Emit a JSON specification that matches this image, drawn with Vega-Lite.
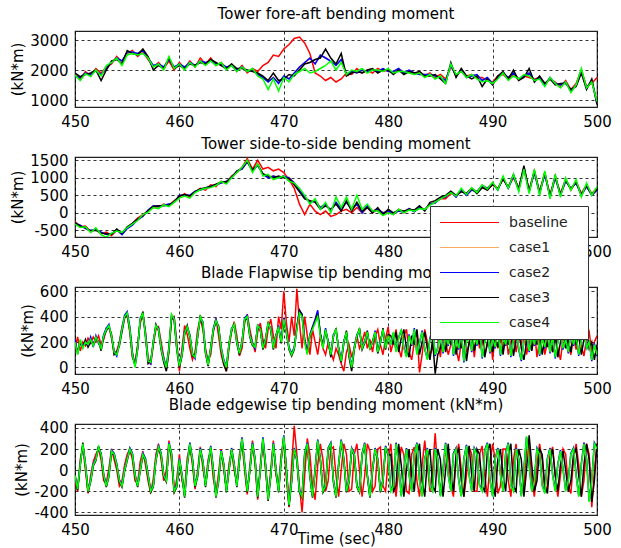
{
"$schema": "https://vega.github.io/schema/vega-lite/v6.json",
"background": "white",
"padding": {"left": 10, "top": 6, "right": 5, "bottom": 6},
"spacing": 50,
"bounds": "flush",
"config": {
  "font": "DejaVu Sans",
  "locale": {"number": {"decimal": ".", "thousands": "", "grouping": [3], "currency": ["", ""], "minus": "-"}},
  "view": {"stroke": "#222", "strokeWidth": 1.2},
  "axis": {"grid": true, "gridColor": "#000", "gridDash": [3, 3], "gridOpacity": 0.8, "gridWidth": 1, "domain": false, "ticks": false, "labelFontSize": 15, "labelColor": "#000", "labelPadding": 7, "labelFlush": false, "labelOverlap": false, "titleFontSize": 15, "titleFontWeight": "normal", "titleColor": "#000", "titlePadding": 4, "format": "d"},
  "title": {"fontSize": 15, "fontWeight": "normal", "anchor": "middle", "color": "#000"},
  "legend": {"orient": "none", "legendX": 355, "legendY": 175, "symbolType": "stroke", "symbolSize": 3481, "symbolStrokeWidth": 1.2, "clipHeight": 15, "rowPadding": 10, "labelOffset": 9, "labelFontSize": 14, "labelColor": "#222", "padding": 9, "fillColor": "#fff", "strokeColor": "#333", "labelLimit": 0, "titleOrient": "right", "titleOpacity": 0, "titleFontSize": 14, "titlePadding": 2, "titleFontWeight": "normal"}
},
"datasets": {
"p1": [
{"t":450,"a":1850,"b":1820,"c":1800,"d":1900,"e":1830},
{"t":450.5,"a":1700,"b":1760,"c":1750,"d":1780,"e":1650},
{"t":451,"a":1950,"b":1880,"c":1900,"d":1850,"e":1880},
{"t":451.5,"a":1800,"b":1860,"c":1850,"d":1900,"e":1780},
{"t":452,"a":2050,"b":1970,"c":1980,"d":2000,"e":2000},
{"t":452.5,"a":1900,"b":1830,"c":1850,"d":1650,"e":1800},
{"t":453,"a":2100,"b":2060,"c":2050,"d":2000,"e":2150},
{"t":453.5,"a":2200,"b":2240,"c":2250,"d":2300,"e":2250},
{"t":454,"a":2450,"b":2380,"c":2400,"d":2350,"e":2400},
{"t":454.5,"a":2250,"b":2280,"c":2300,"d":2200,"e":2150},
{"t":455,"a":2550,"b":2580,"c":2600,"d":2650,"e":2500},
{"t":455.5,"a":2650,"b":2610,"c":2600,"d":2550,"e":2550},
{"t":456,"a":2450,"b":2530,"c":2550,"d":2500,"e":2500},
{"t":456.5,"a":2600,"b":2630,"c":2650,"d":2700,"e":2550},
{"t":457,"a":2350,"b":2420,"c":2400,"d":2450,"e":2400},
{"t":457.5,"a":2100,"b":2130,"c":2150,"d":2000,"e":2100},
{"t":458,"a":2250,"b":2190,"c":2200,"d":2150,"e":2200},
{"t":458.5,"a":2050,"b":2080,"c":2100,"d":2050,"e":2000},
{"t":459,"a":2300,"b":2370,"c":2350,"d":2400,"e":2450},
{"t":459.5,"a":2000,"b":2080,"c":2100,"d":2050,"e":2050},
{"t":460,"a":2250,"b":2180,"c":2200,"d":2150,"e":2200},
{"t":460.5,"a":2050,"b":2090,"c":2100,"d":2050,"e":2000},
{"t":461,"a":2300,"b":2240,"c":2250,"d":2200,"e":2250},
{"t":461.5,"a":2100,"b":2160,"c":2150,"d":2150,"e":2100},
{"t":462,"a":2400,"b":2310,"c":2300,"d":2250,"e":2300},
{"t":462.5,"a":2200,"b":2230,"c":2250,"d":2200,"e":2150},
{"t":463,"a":2400,"b":2320,"c":2300,"d":2350,"e":2300},
{"t":463.5,"a":2150,"b":2190,"c":2200,"d":2250,"e":2150},
{"t":464,"a":2250,"b":2180,"c":2200,"d":2150,"e":2250},
{"t":464.5,"a":2050,"b":2080,"c":2100,"d":2050,"e":2000},
{"t":465,"a":2200,"b":2160,"c":2150,"d":2200,"e":2150},
{"t":465.5,"a":1950,"b":2010,"c":2000,"d":2050,"e":1950},
{"t":466,"a":2150,"b":2090,"c":2100,"d":2050,"e":2100},
{"t":466.5,"a":1900,"b":1960,"c":1950,"d":2000,"e":1950},
{"t":467,"a":2050,"b":1990,"c":2000,"d":1950,"e":2050},
{"t":467.5,"a":1950,"b":1870,"c":1850,"d":1900,"e":1800},
{"t":468,"a":2150,"b":1760,"c":1750,"d":1800,"e":1700},
{"t":468.5,"a":2250,"b":1620,"c":1600,"d":1650,"e":1350},
{"t":469,"a":2500,"b":1740,"c":1750,"d":1900,"e":1700},
{"t":469.5,"a":2450,"b":1580,"c":1550,"d":1650,"e":1300},
{"t":470,"a":2700,"b":1780,"c":1800,"d":1700,"e":1750},
{"t":470.5,"a":2850,"b":1720,"c":1700,"d":1850,"e":1600},
{"t":471,"a":3050,"b":1880,"c":1900,"d":1800,"e":1850},
{"t":471.5,"a":3100,"b":2080,"c":2100,"d":2000,"e":1950},
{"t":472,"a":2900,"b":2230,"c":2250,"d":2200,"e":2050},
{"t":472.5,"a":2550,"b":2380,"c":2400,"d":2250,"e":1900},
{"t":473,"a":1900,"b":2220,"c":2200,"d":2350,"e":1950},
{"t":473.5,"a":1800,"b":2480,"c":2500,"d":2400,"e":2050},
{"t":474,"a":1650,"b":2420,"c":2400,"d":2700,"e":2150},
{"t":474.5,"a":1750,"b":2280,"c":2300,"d":2400,"e":2300},
{"t":475,"a":1600,"b":2170,"c":2150,"d":2200,"e":2000},
{"t":475.5,"a":1700,"b":2330,"c":2350,"d":2550,"e":2250},
{"t":476,"a":1900,"b":1870,"c":1850,"d":1800,"e":1850},
{"t":476.5,"a":1850,"b":1940,"c":1950,"d":1900,"e":2000},
{"t":477,"a":2050,"b":1910,"c":1900,"d":1950,"e":1950},
{"t":477.5,"a":1900,"b":1990,"c":2000,"d":1900,"e":2050},
{"t":478,"a":2000,"b":1960,"c":1950,"d":2000,"e":1900},
{"t":478.5,"a":1900,"b":1990,"c":2000,"d":2050,"e":2000},
{"t":479,"a":2050,"b":1960,"c":1950,"d":1900,"e":2000},
{"t":479.5,"a":1950,"b":2040,"c":2050,"d":2000,"e":1950},
{"t":480,"a":2000,"b":1960,"c":1950,"d":2000,"e":2050},
{"t":480.5,"a":1900,"b":1940,"c":1950,"d":1850,"e":1900},
{"t":481,"a":2000,"b":2040,"c":2050,"d":2000,"e":1950},
{"t":481.5,"a":1900,"b":1910,"c":1900,"d":1850,"e":1950},
{"t":482,"a":1950,"b":1990,"c":2000,"d":1950,"e":1900},
{"t":482.5,"a":1850,"b":1890,"c":1900,"d":1900,"e":1850},
{"t":483,"a":1950,"b":1860,"c":1850,"d":1950,"e":1900},
{"t":483.5,"a":1800,"b":1840,"c":1850,"d":1800,"e":1750},
{"t":484,"a":1900,"b":1860,"c":1850,"d":1800,"e":1850},
{"t":484.5,"a":1750,"b":1790,"c":1800,"d":1850,"e":1700},
{"t":485,"a":1850,"b":1760,"c":1750,"d":1700,"e":1800},
{"t":485.5,"a":1700,"b":1660,"c":1650,"d":1550,"e":1550},
{"t":486,"a":2100,"b":2140,"c":2150,"d":2250,"e":2200},
{"t":486.5,"a":1850,"b":1810,"c":1800,"d":1750,"e":1850},
{"t":487,"a":1950,"b":1990,"c":2000,"d":2050,"e":1950},
{"t":487.5,"a":1800,"b":1760,"c":1750,"d":1800,"e":1750},
{"t":488,"a":1850,"b":1810,"c":1800,"d":1700,"e":1850},
{"t":488.5,"a":1750,"b":1840,"c":1850,"d":1800,"e":1700},
{"t":489,"a":1750,"b":1660,"c":1650,"d":1450,"e":1600},
{"t":489.5,"a":1650,"b":1740,"c":1750,"d":1700,"e":1650},
{"t":490,"a":1600,"b":1560,"c":1550,"d":1500,"e":1550},
{"t":490.5,"a":1800,"b":1760,"c":1750,"d":1800,"e":1700},
{"t":491,"a":1850,"b":1890,"c":1900,"d":1950,"e":1900},
{"t":491.5,"a":1700,"b":1740,"c":1750,"d":1700,"e":1650},
{"t":492,"a":1850,"b":1890,"c":1900,"d":2000,"e":1800},
{"t":492.5,"a":1650,"b":1690,"c":1700,"d":1650,"e":1700},
{"t":493,"a":1800,"b":1810,"c":1800,"d":1750,"e":1850},
{"t":493.5,"a":1750,"b":1890,"c":1900,"d":2050,"e":1800},
{"t":494,"a":1700,"b":1660,"c":1650,"d":1600,"e":1650},
{"t":494.5,"a":1750,"b":1740,"c":1750,"d":1800,"e":1700},
{"t":495,"a":1550,"b":1510,"c":1500,"d":1550,"e":1450},
{"t":495.5,"a":1700,"b":1740,"c":1750,"d":1700,"e":1750},
{"t":496,"a":1600,"b":1560,"c":1550,"d":1500,"e":1550},
{"t":496.5,"a":1450,"b":1490,"c":1500,"d":1550,"e":1400},
{"t":497,"a":1650,"b":1610,"c":1600,"d":1550,"e":1600},
{"t":497.5,"a":1350,"b":1310,"c":1300,"d":1350,"e":1250},
{"t":498,"a":1550,"b":1510,"c":1500,"d":1450,"e":1500},
{"t":498.5,"a":2000,"b":1960,"c":1950,"d":1900,"e":2050},
{"t":499,"a":1450,"b":1410,"c":1400,"d":1350,"e":1400},
{"t":499.5,"a":1550,"b":1640,"c":1650,"d":1700,"e":1600},
{"t":500,"a":1750,"b":950,"c":900,"d":850,"e":950}
],
"p2": [
{"t":450,"a":-250,"b":-290,"c":-300,"d":-280,"e":-320},
{"t":450.5,"a":-400,"b":-360,"c":-350,"d":-380,"e":-420},
{"t":451,"a":-380,"b":-440,"c":-450,"d":-420,"e":-400},
{"t":451.5,"a":-550,"b":-510,"c":-500,"d":-520,"e":-560},
{"t":452,"a":-450,"b":-470,"c":-480,"d":-500,"e":-430},
{"t":452.5,"a":-600,"b":-560,"c":-550,"d":-580,"e":-620},
{"t":453,"a":-550,"b":-610,"c":-620,"d":-600,"e":-700},
{"t":453.5,"a":-650,"b":-610,"c":-600,"d":-620,"e":-580},
{"t":454,"a":-500,"b":-490,"c":-480,"d":-460,"e":-520},
{"t":454.5,"a":-600,"b":-610,"c":-620,"d":-580,"e":-560},
{"t":455,"a":-420,"b":-440,"c":-450,"d":-400,"e":-420},
{"t":455.5,"a":-300,"b":-340,"c":-350,"d":-300,"e":-320},
{"t":456,"a":-150,"b":-190,"c":-200,"d":-180,"e":-220},
{"t":456.5,"a":-50,"b":-90,"c":-100,"d":-80,"e":-50},
{"t":457,"a":50,"b":70,"c":80,"d":60,"e":20},
{"t":457.5,"a":150,"b":190,"c":200,"d":180,"e":150},
{"t":458,"a":150,"b":170,"c":180,"d":200,"e":120},
{"t":458.5,"a":250,"b":230,"c":220,"d":200,"e":230},
{"t":459,"a":200,"b":240,"c":250,"d":220,"e":180},
{"t":459.5,"a":350,"b":310,"c":300,"d":320,"e":300},
{"t":460,"a":450,"b":490,"c":500,"d":480,"e":420},
{"t":460.5,"a":550,"b":510,"c":500,"d":520,"e":480},
{"t":461,"a":450,"b":490,"c":500,"d":480,"e":420},
{"t":461.5,"a":600,"b":610,"c":620,"d":600,"e":580},
{"t":462,"a":700,"b":660,"c":650,"d":680,"e":660},
{"t":462.5,"a":650,"b":690,"c":700,"d":720,"e":700},
{"t":463,"a":800,"b":760,"c":750,"d":760,"e":720},
{"t":463.5,"a":750,"b":790,"c":800,"d":820,"e":780},
{"t":464,"a":900,"b":860,"c":850,"d":880,"e":900},
{"t":464.5,"a":850,"b":890,"c":900,"d":880,"e":820},
{"t":465,"a":1050,"b":1010,"c":1000,"d":1020,"e":1000},
{"t":465.5,"a":1150,"b":1190,"c":1200,"d":1180,"e":1150},
{"t":466,"a":1300,"b":1260,"c":1250,"d":1280,"e":1300},
{"t":466.5,"a":1550,"b":1460,"c":1450,"d":1480,"e":1500},
{"t":467,"a":1250,"b":1210,"c":1200,"d":1220,"e":1150},
{"t":467.5,"a":1500,"b":1360,"c":1350,"d":1380,"e":1400},
{"t":468,"a":1250,"b":1110,"c":1100,"d":1120,"e":1050},
{"t":468.5,"a":1300,"b":1010,"c":1000,"d":1050,"e":1100},
{"t":469,"a":1200,"b":1060,"c":1050,"d":1000,"e":950},
{"t":469.5,"a":1250,"b":1010,"c":1000,"d":1050,"e":1000},
{"t":470,"a":1150,"b":1060,"c":1050,"d":1000,"e":1050},
{"t":470.5,"a":950,"b":1010,"c":1000,"d":980,"e":900},
{"t":471,"a":700,"b":860,"c":850,"d":800,"e":850},
{"t":471.5,"a":250,"b":660,"c":650,"d":600,"e":700},
{"t":472,"a":-50,"b":460,"c":450,"d":400,"e":500},
{"t":472.5,"a":250,"b":310,"c":300,"d":350,"e":250},
{"t":473,"a":50,"b":360,"c":350,"d":300,"e":400},
{"t":473.5,"a":-50,"b":160,"c":150,"d":100,"e":100},
{"t":474,"a":50,"b":260,"c":250,"d":200,"e":300},
{"t":474.5,"a":-100,"b":60,"c":50,"d":100,"e":0},
{"t":475,"a":-50,"b":310,"c":300,"d":250,"e":450},
{"t":475.5,"a":50,"b":110,"c":100,"d":50,"e":150},
{"t":476,"a":100,"b":310,"c":300,"d":350,"e":450},
{"t":476.5,"a":0,"b":110,"c":100,"d":50,"e":100},
{"t":477,"a":150,"b":260,"c":250,"d":300,"e":500},
{"t":477.5,"a":0,"b":10,"c":0,"d":50,"e":100},
{"t":478,"a":150,"b":210,"c":200,"d":150,"e":250},
{"t":478.5,"a":0,"b":60,"c":50,"d":0,"e":50},
{"t":479,"a":100,"b":110,"c":100,"d":150,"e":50},
{"t":479.5,"a":-50,"b":10,"c":0,"d":-50,"e":-80},
{"t":480,"a":50,"b":60,"c":50,"d":100,"e":0},
{"t":480.5,"a":-50,"b":-10,"c":-20,"d":0,"e":-50},
{"t":481,"a":100,"b":60,"c":50,"d":80,"e":100},
{"t":481.5,"a":0,"b":30,"c":20,"d":50,"e":0},
{"t":482,"a":100,"b":130,"c":120,"d":100,"e":80},
{"t":482.5,"a":50,"b":40,"c":30,"d":80,"e":50},
{"t":483,"a":150,"b":160,"c":150,"d":200,"e":120},
{"t":483.5,"a":100,"b":90,"c":80,"d":50,"e":100},
{"t":484,"a":250,"b":260,"c":250,"d":300,"e":220},
{"t":484.5,"a":300,"b":290,"c":280,"d":350,"e":300},
{"t":485,"a":400,"b":430,"c":420,"d":450,"e":400},
{"t":485.5,"a":400,"b":460,"c":450,"d":500,"e":480},
{"t":486,"a":550,"b":610,"c":600,"d":620,"e":580},
{"t":486.5,"a":500,"b":460,"c":450,"d":500,"e":480},
{"t":487,"a":650,"b":660,"c":650,"d":600,"e":700},
{"t":487.5,"a":550,"b":510,"c":500,"d":550,"e":520},
{"t":488,"a":700,"b":660,"c":650,"d":700,"e":720},
{"t":488.5,"a":600,"b":610,"c":600,"d":550,"e":580},
{"t":489,"a":750,"b":790,"c":780,"d":720,"e":800},
{"t":489.5,"a":650,"b":710,"c":700,"d":650,"e":680},
{"t":490,"a":800,"b":860,"c":850,"d":820,"e":870},
{"t":490.5,"a":700,"b":660,"c":650,"d":680,"e":650},
{"t":491,"a":950,"b":1010,"c":1000,"d":980,"e":1050},
{"t":491.5,"a":750,"b":710,"c":700,"d":720,"e":700},
{"t":492,"a":1000,"b":1060,"c":1050,"d":1100,"e":1100},
{"t":492.5,"a":700,"b":660,"c":650,"d":680,"e":600},
{"t":493,"a":1250,"b":1310,"c":1300,"d":1350,"e":1250},
{"t":493.5,"a":650,"b":610,"c":600,"d":620,"e":550},
{"t":494,"a":1200,"b":1160,"c":1150,"d":1200,"e":1250},
{"t":494.5,"a":600,"b":560,"c":550,"d":580,"e":500},
{"t":495,"a":1150,"b":1110,"c":1100,"d":1150,"e":1200},
{"t":495.5,"a":500,"b":460,"c":450,"d":480,"e":400},
{"t":496,"a":1050,"b":1010,"c":1000,"d":1050,"e":1100},
{"t":496.5,"a":550,"b":510,"c":500,"d":520,"e":450},
{"t":497,"a":950,"b":910,"c":900,"d":950,"e":1000},
{"t":497.5,"a":650,"b":710,"c":700,"d":680,"e":650},
{"t":498,"a":900,"b":860,"c":850,"d":880,"e":950},
{"t":498.5,"a":550,"b":510,"c":500,"d":520,"e":450},
{"t":499,"a":800,"b":760,"c":750,"d":780,"e":850},
{"t":499.5,"a":550,"b":510,"c":500,"d":520,"e":500},
{"t":500,"a":700,"b":660,"c":650,"d":680,"e":750}
],
"p3": [
{"t":450,"a":150,"b":210,"c":220,"d":180,"e":200},
{"t":450.25,"a":240,"b":100,"c":110,"d":130,"e":100},
{"t":450.5,"a":130,"b":210,"c":200,"d":190,"e":220},
{"t":450.75,"a":200,"b":160,"c":170,"d":160,"e":150},
{"t":451,"a":170,"b":200,"c":190,"d":220,"e":200},
{"t":451.25,"a":230,"b":170,"c":170,"d":160,"e":180},
{"t":451.5,"a":190,"b":230,"c":240,"d":200,"e":220},
{"t":451.75,"a":240,"b":170,"c":160,"d":190,"e":170},
{"t":452,"a":200,"b":240,"c":250,"d":230,"e":240},
{"t":452.25,"a":250,"b":200,"c":190,"d":210,"e":200},
{"t":452.5,"a":180,"b":150,"c":160,"d":130,"e":150},
{"t":452.75,"a":220,"b":250,"c":260,"d":240,"e":250},
{"t":453,"a":310,"b":300,"c":310,"d":290,"e":300},
{"t":453.25,"a":320,"b":330,"c":340,"d":320,"e":330},
{"t":453.5,"a":230,"b":250,"c":240,"d":260,"e":250},
{"t":453.75,"a":110,"b":120,"c":130,"d":100,"e":120},
{"t":454,"a":130,"b":100,"c":90,"d":120,"e":100},
{"t":454.25,"a":200,"b":180,"c":190,"d":170,"e":180},
{"t":454.5,"a":320,"b":300,"c":310,"d":280,"e":300},
{"t":454.75,"a":390,"b":400,"c":410,"d":390,"e":400},
{"t":455,"a":410,"b":430,"c":440,"d":420,"e":430},
{"t":455.25,"a":280,"b":310,"c":320,"d":290,"e":300},
{"t":455.5,"a":80,"b":110,"c":120,"d":90,"e":100},
{"t":455.75,"a":30,"b":10,"c":10,"d":20,"e":0},
{"t":456,"a":180,"b":150,"c":140,"d":160,"e":150},
{"t":456.25,"a":350,"b":380,"c":390,"d":370,"e":380},
{"t":456.5,"a":410,"b":430,"c":420,"d":440,"e":430},
{"t":456.75,"a":280,"b":260,"c":270,"d":240,"e":250},
{"t":457,"a":80,"b":50,"c":60,"d":30,"e":50},
{"t":457.25,"a":20,"b":40,"c":30,"d":50,"e":40},
{"t":457.5,"a":180,"b":200,"c":210,"d":190,"e":200},
{"t":457.75,"a":300,"b":330,"c":320,"d":340,"e":330},
{"t":458,"a":320,"b":300,"c":310,"d":290,"e":300},
{"t":458.25,"a":200,"b":150,"c":160,"d":140,"e":150},
{"t":458.5,"a":80,"b":60,"c":70,"d":40,"e":60},
{"t":458.75,"a":-20,"b":0,"c":10,"d":-30,"e":0},
{"t":459,"a":120,"b":150,"c":160,"d":140,"e":150},
{"t":459.25,"a":380,"b":410,"c":410,"d":400,"e":420},
{"t":459.5,"a":400,"b":380,"c":390,"d":370,"e":380},
{"t":459.75,"a":200,"b":150,"c":160,"d":140,"e":150},
{"t":460,"a":-30,"b":10,"c":20,"d":0,"e":10},
{"t":460.25,"a":150,"b":100,"c":110,"d":90,"e":100},
{"t":460.5,"a":330,"b":270,"c":280,"d":260,"e":270},
{"t":460.75,"a":260,"b":320,"c":310,"d":330,"e":320},
{"t":461,"a":150,"b":250,"c":260,"d":240,"e":250},
{"t":461.25,"a":60,"b":100,"c":110,"d":90,"e":100},
{"t":461.5,"a":120,"b":80,"c":70,"d":100,"e":80},
{"t":461.75,"a":300,"b":250,"c":260,"d":240,"e":250},
{"t":462,"a":380,"b":400,"c":390,"d":410,"e":400},
{"t":462.25,"a":300,"b":350,"c":360,"d":330,"e":350},
{"t":462.5,"a":150,"b":120,"c":130,"d":110,"e":120},
{"t":462.75,"a":50,"b":20,"c":30,"d":10,"e":20},
{"t":463,"a":100,"b":150,"c":140,"d":160,"e":150},
{"t":463.25,"a":280,"b":300,"c":310,"d":290,"e":300},
{"t":463.5,"a":390,"b":370,"c":380,"d":360,"e":370},
{"t":463.75,"a":250,"b":320,"c":310,"d":330,"e":320},
{"t":464,"a":100,"b":150,"c":160,"d":140,"e":150},
{"t":464.25,"a":20,"b":50,"c":60,"d":30,"e":50},
{"t":464.5,"a":-30,"b":0,"c":10,"d":-30,"e":0},
{"t":464.75,"a":150,"b":180,"c":170,"d":190,"e":180},
{"t":465,"a":280,"b":300,"c":310,"d":290,"e":300},
{"t":465.25,"a":360,"b":340,"c":330,"d":350,"e":340},
{"t":465.5,"a":250,"b":200,"c":210,"d":190,"e":200},
{"t":465.75,"a":90,"b":110,"c":120,"d":100,"e":110},
{"t":466,"a":150,"b":200,"c":190,"d":210,"e":200},
{"t":466.25,"a":350,"b":380,"c":390,"d":370,"e":380},
{"t":466.5,"a":420,"b":400,"c":410,"d":390,"e":400},
{"t":466.75,"a":300,"b":250,"c":260,"d":240,"e":250},
{"t":467,"a":200,"b":180,"c":190,"d":170,"e":180},
{"t":467.25,"a":120,"b":160,"c":150,"d":170,"e":160},
{"t":467.5,"a":280,"b":330,"c":340,"d":320,"e":330},
{"t":467.75,"a":350,"b":300,"c":290,"d":310,"e":300},
{"t":468,"a":220,"b":150,"c":160,"d":140,"e":150},
{"t":468.25,"a":150,"b":220,"c":230,"d":210,"e":220},
{"t":468.5,"a":300,"b":350,"c":340,"d":360,"e":350},
{"t":468.75,"a":380,"b":300,"c":310,"d":290,"e":300},
{"t":469,"a":250,"b":150,"c":160,"d":140,"e":150},
{"t":469.25,"a":150,"b":250,"c":240,"d":260,"e":250},
{"t":469.5,"a":400,"b":320,"c":330,"d":310,"e":320},
{"t":469.75,"a":300,"b":200,"c":210,"d":190,"e":200},
{"t":470,"a":600,"b":380,"c":390,"d":370,"e":380},
{"t":470.25,"a":350,"b":280,"c":290,"d":270,"e":280},
{"t":470.5,"a":200,"b":150,"c":160,"d":140,"e":150},
{"t":470.75,"a":400,"b":100,"c":110,"d":90,"e":100},
{"t":471,"a":250,"b":150,"c":160,"d":140,"e":150},
{"t":471.25,"a":620,"b":310,"c":320,"d":310,"e":300},
{"t":471.5,"a":350,"b":440,"c":450,"d":450,"e":430},
{"t":471.75,"a":150,"b":410,"c":420,"d":410,"e":400},
{"t":472,"a":400,"b":210,"c":220,"d":210,"e":200},
{"t":472.25,"a":250,"b":110,"c":120,"d":110,"e":100},
{"t":472.5,"a":100,"b":250,"c":260,"d":240,"e":250},
{"t":472.75,"a":300,"b":310,"c":320,"d":310,"e":300},
{"t":473,"a":200,"b":370,"c":380,"d":360,"e":350},
{"t":473.25,"a":100,"b":440,"c":450,"d":420,"e":400},
{"t":473.5,"a":250,"b":260,"c":260,"d":270,"e":250},
{"t":473.75,"a":150,"b":160,"c":170,"d":160,"e":150},
{"t":474,"a":100,"b":300,"c":310,"d":290,"e":300},
{"t":474.25,"a":200,"b":200,"c":190,"d":210,"e":200},
{"t":474.5,"a":120,"b":100,"c":110,"d":80,"e":100},
{"t":474.75,"a":60,"b":250,"c":260,"d":240,"e":250},
{"t":475,"a":150,"b":300,"c":290,"d":310,"e":300},
{"t":475.25,"a":100,"b":150,"c":160,"d":140,"e":150},
{"t":475.5,"a":30,"b":50,"c":60,"d":40,"e":50},
{"t":475.75,"a":-30,"b":200,"c":210,"d":190,"e":200},
{"t":476,"a":120,"b":280,"c":270,"d":290,"e":280},
{"t":476.25,"a":180,"b":100,"c":110,"d":80,"e":100},
{"t":476.5,"a":80,"b":0,"c":10,"d":-30,"e":0},
{"t":476.75,"a":150,"b":150,"c":160,"d":140,"e":150},
{"t":477,"a":250,"b":250,"c":260,"d":240,"e":250},
{"t":477.25,"a":150,"b":300,"c":290,"d":310,"e":300},
{"t":477.5,"a":200,"b":150,"c":160,"d":140,"e":150},
{"t":477.75,"a":280,"b":200,"c":210,"d":190,"e":200},
{"t":478,"a":150,"b":280,"c":270,"d":290,"e":280},
{"t":478.25,"a":220,"b":150,"c":160,"d":140,"e":150},
{"t":478.5,"a":120,"b":200,"c":190,"d":210,"e":200},
{"t":478.75,"a":250,"b":280,"c":290,"d":270,"e":280},
{"t":479,"a":300,"b":120,"c":130,"d":110,"e":120},
{"t":479.25,"a":180,"b":200,"c":210,"d":190,"e":200},
{"t":479.5,"a":100,"b":300,"c":290,"d":310,"e":300},
{"t":479.75,"a":230,"b":150,"c":160,"d":140,"e":150},
{"t":480,"a":320,"b":250,"c":240,"d":260,"e":250},
{"t":480.25,"a":120,"b":190,"c":190,"d":250,"e":180},
{"t":480.5,"a":200,"b":270,"c":270,"d":180,"e":280},
{"t":480.75,"a":300,"b":130,"c":130,"d":280,"e":120},
{"t":481,"a":150,"b":220,"c":240,"d":120,"e":230},
{"t":481.25,"a":80,"b":290,"c":290,"d":230,"e":300},
{"t":481.5,"a":250,"b":160,"c":160,"d":300,"e":150},
{"t":481.75,"a":300,"b":90,"c":90,"d":150,"e":80},
{"t":482,"a":120,"b":240,"c":260,"d":80,"e":250},
{"t":482.25,"a":60,"b":190,"c":170,"d":250,"e":180},
{"t":482.5,"a":200,"b":290,"c":310,"d":180,"e":300},
{"t":482.75,"a":280,"b":110,"c":110,"d":300,"e":100},
{"t":483,"a":-40,"b":210,"c":190,"d":100,"e":200},
{"t":483.25,"a":100,"b":270,"c":290,"d":200,"e":280},
{"t":483.5,"a":300,"b":160,"c":140,"d":280,"e":150},
{"t":483.75,"a":200,"b":70,"c":70,"d":150,"e":60},
{"t":484,"a":100,"b":210,"c":230,"d":60,"e":220},
{"t":484.25,"a":150,"b":290,"c":310,"d":220,"e":300},
{"t":484.5,"a":280,"b":110,"c":90,"d":-50,"e":100},
{"t":484.75,"a":220,"b":140,"c":160,"d":100,"e":150},
{"t":485,"a":80,"b":270,"c":290,"d":150,"e":280},
{"t":485.25,"a":300,"b":130,"c":110,"d":280,"e":120},
{"t":485.5,"a":200,"b":240,"c":260,"d":120,"e":250},
{"t":485.75,"a":100,"b":190,"c":170,"d":250,"e":180},
{"t":486,"a":180,"b":290,"c":310,"d":180,"e":300},
{"t":486.25,"a":280,"b":110,"c":90,"d":300,"e":100},
{"t":486.5,"a":150,"b":210,"c":230,"d":100,"e":220},
{"t":486.75,"a":50,"b":160,"c":140,"d":220,"e":150},
{"t":487,"a":200,"b":270,"c":290,"d":150,"e":280},
{"t":487.25,"a":320,"b":60,"c":40,"d":280,"e":50},
{"t":487.5,"a":120,"b":210,"c":210,"d":50,"e":200},
{"t":487.75,"a":180,"b":290,"c":310,"d":200,"e":300},
{"t":488,"a":250,"b":140,"c":120,"d":300,"e":130},
{"t":488.25,"a":80,"b":240,"c":260,"d":130,"e":250},
{"t":488.5,"a":300,"b":190,"c":170,"d":250,"e":180},
{"t":488.75,"a":150,"b":310,"c":330,"d":180,"e":320},
{"t":489,"a":220,"b":90,"c":70,"d":320,"e":80},
{"t":489.25,"a":100,"b":210,"c":210,"d":80,"e":200},
{"t":489.5,"a":180,"b":270,"c":290,"d":200,"e":280},
{"t":489.75,"a":300,"b":130,"c":110,"d":280,"e":120},
{"t":490,"a":60,"b":220,"c":240,"d":120,"e":230},
{"t":490.25,"a":250,"b":170,"c":150,"d":230,"e":160},
{"t":490.5,"a":150,"b":290,"c":310,"d":160,"e":300},
{"t":490.75,"a":220,"b":110,"c":90,"d":300,"e":100},
{"t":491,"a":120,"b":240,"c":260,"d":100,"e":250},
{"t":491.25,"a":300,"b":190,"c":170,"d":250,"e":180},
{"t":491.5,"a":100,"b":270,"c":290,"d":180,"e":280},
{"t":491.75,"a":200,"b":100,"c":80,"d":280,"e":90},
{"t":492,"a":280,"b":210,"c":230,"d":90,"e":220},
{"t":492.25,"a":120,"b":310,"c":330,"d":220,"e":320},
{"t":492.5,"a":250,"b":160,"c":140,"d":320,"e":150},
{"t":492.75,"a":180,"b":70,"c":50,"d":150,"e":60},
{"t":493,"a":320,"b":210,"c":210,"d":60,"e":200},
{"t":493.25,"a":100,"b":270,"c":290,"d":200,"e":280},
{"t":493.5,"a":200,"b":140,"c":120,"d":280,"e":130},
{"t":493.75,"a":150,"b":240,"c":260,"d":130,"e":250},
{"t":494,"a":300,"b":190,"c":170,"d":250,"e":180},
{"t":494.25,"a":80,"b":290,"c":310,"d":180,"e":300},
{"t":494.5,"a":220,"b":110,"c":90,"d":300,"e":100},
{"t":494.75,"a":280,"b":220,"c":240,"d":100,"e":230},
{"t":495,"a":100,"b":170,"c":150,"d":230,"e":160},
{"t":495.25,"a":200,"b":270,"c":290,"d":160,"e":280},
{"t":495.5,"a":260,"b":130,"c":110,"d":280,"e":120},
{"t":495.75,"a":120,"b":240,"c":260,"d":120,"e":250},
{"t":496,"a":250,"b":90,"c":70,"d":250,"e":80},
{"t":496.25,"a":150,"b":210,"c":210,"d":80,"e":200},
{"t":496.5,"a":60,"b":290,"c":310,"d":200,"e":300},
{"t":496.75,"a":220,"b":160,"c":140,"d":300,"e":150},
{"t":497,"a":300,"b":210,"c":230,"d":150,"e":220},
{"t":497.25,"a":180,"b":130,"c":110,"d":220,"e":120},
{"t":497.5,"a":100,"b":270,"c":290,"d":120,"e":280},
{"t":497.75,"a":250,"b":190,"c":170,"d":280,"e":180},
{"t":498,"a":140,"b":240,"c":260,"d":180,"e":250},
{"t":498.25,"a":280,"b":110,"c":90,"d":250,"e":100},
{"t":498.5,"a":170,"b":210,"c":230,"d":100,"e":220},
{"t":498.75,"a":90,"b":290,"c":310,"d":220,"e":300},
{"t":499,"a":230,"b":160,"c":140,"d":300,"e":150},
{"t":499.25,"a":280,"b":210,"c":210,"d":150,"e":200},
{"t":499.5,"a":120,"b":70,"c":50,"d":200,"e":60},
{"t":499.75,"a":200,"b":170,"c":190,"d":60,"e":180},
{"t":500,"a":250,"b":110,"c":90,"d":180,"e":100}
],
"p4": [
{"t":450,"a":-100,"b":-60,"c":-60,"d":-40,"e":-50},
{"t":450.25,"a":-200,"b":-170,"c":-170,"d":-190,"e":-180},
{"t":450.5,"a":100,"b":60,"c":60,"d":40,"e":50},
{"t":450.75,"a":220,"b":240,"c":240,"d":260,"e":250},
{"t":451,"a":0,"b":60,"c":60,"d":40,"e":50},
{"t":451.25,"a":-220,"b":-190,"c":-190,"d":-210,"e":-200},
{"t":451.5,"a":-50,"b":-90,"c":-90,"d":-110,"e":-100},
{"t":451.75,"a":80,"b":60,"c":60,"d":40,"e":50},
{"t":452,"a":150,"b":110,"c":110,"d":90,"e":100},
{"t":452.25,"a":200,"b":210,"c":210,"d":230,"e":220},
{"t":452.5,"a":100,"b":160,"c":160,"d":140,"e":150},
{"t":452.75,"a":-100,"b":-40,"c":-40,"d":-60,"e":-50},
{"t":453,"a":-120,"b":-140,"c":-140,"d":-160,"e":-150},
{"t":453.25,"a":20,"b":-40,"c":-40,"d":-60,"e":-50},
{"t":453.5,"a":200,"b":190,"c":190,"d":170,"e":180},
{"t":453.75,"a":100,"b":160,"c":160,"d":140,"e":150},
{"t":454,"a":0,"b":60,"c":60,"d":40,"e":50},
{"t":454.25,"a":-150,"b":-90,"c":-90,"d":-110,"e":-100},
{"t":454.5,"a":-100,"b":-140,"c":-140,"d":-160,"e":-150},
{"t":454.75,"a":50,"b":10,"c":10,"d":-10,"e":0},
{"t":455,"a":150,"b":110,"c":110,"d":90,"e":100},
{"t":455.25,"a":200,"b":210,"c":210,"d":190,"e":200},
{"t":455.5,"a":100,"b":160,"c":160,"d":140,"e":150},
{"t":455.75,"a":-100,"b":-40,"c":-40,"d":-60,"e":-50},
{"t":456,"a":-120,"b":-140,"c":-140,"d":-160,"e":-150},
{"t":456.25,"a":80,"b":10,"c":10,"d":-10,"e":0},
{"t":456.5,"a":180,"b":160,"c":160,"d":140,"e":150},
{"t":456.75,"a":50,"b":110,"c":110,"d":90,"e":100},
{"t":457,"a":-100,"b":-40,"c":-40,"d":-60,"e":-50},
{"t":457.25,"a":-220,"b":-190,"c":-190,"d":-210,"e":-200},
{"t":457.5,"a":-80,"b":-140,"c":-140,"d":-160,"e":-150},
{"t":457.75,"a":150,"b":110,"c":110,"d":90,"e":100},
{"t":458,"a":250,"b":230,"c":230,"d":210,"e":220},
{"t":458.25,"a":100,"b":160,"c":160,"d":140,"e":150},
{"t":458.5,"a":-100,"b":-40,"c":-40,"d":-60,"e":-50},
{"t":458.75,"a":0,"b":-90,"c":-90,"d":-110,"e":-100},
{"t":459,"a":280,"b":260,"c":260,"d":240,"e":250},
{"t":459.25,"a":80,"b":160,"c":160,"d":140,"e":150},
{"t":459.5,"a":-220,"b":-190,"c":-190,"d":-210,"e":-200},
{"t":459.75,"a":-80,"b":-140,"c":-140,"d":-160,"e":-150},
{"t":460,"a":150,"b":110,"c":110,"d":90,"e":100},
{"t":460.25,"a":-100,"b":-40,"c":-40,"d":-60,"e":-50},
{"t":460.5,"a":-200,"b":-240,"c":-240,"d":-260,"e":-250},
{"t":460.75,"a":120,"b":60,"c":60,"d":40,"e":50},
{"t":461,"a":230,"b":260,"c":260,"d":240,"e":250},
{"t":461.25,"a":50,"b":110,"c":110,"d":90,"e":100},
{"t":461.5,"a":-180,"b":-140,"c":-140,"d":-160,"e":-150},
{"t":461.75,"a":0,"b":-40,"c":-40,"d":-60,"e":-50},
{"t":462,"a":220,"b":210,"c":210,"d":190,"e":200},
{"t":462.25,"a":20,"b":90,"c":90,"d":70,"e":80},
{"t":462.5,"a":-120,"b":-140,"c":-140,"d":-160,"e":-150},
{"t":462.75,"a":100,"b":60,"c":60,"d":40,"e":50},
{"t":463,"a":180,"b":230,"c":230,"d":210,"e":220},
{"t":463.25,"a":-80,"b":10,"c":10,"d":-10,"e":0},
{"t":463.5,"a":-220,"b":-240,"c":-240,"d":-260,"e":-250},
{"t":463.75,"a":-30,"b":-90,"c":-90,"d":-110,"e":-100},
{"t":464,"a":200,"b":190,"c":190,"d":170,"e":180},
{"t":464.25,"a":0,"b":60,"c":60,"d":40,"e":50},
{"t":464.5,"a":-180,"b":-190,"c":-190,"d":-210,"e":-200},
{"t":464.75,"a":60,"b":10,"c":10,"d":-10,"e":0},
{"t":465,"a":180,"b":210,"c":210,"d":190,"e":200},
{"t":465.25,"a":0,"b":60,"c":60,"d":40,"e":50},
{"t":465.5,"a":-120,"b":-140,"c":-140,"d":-160,"e":-150},
{"t":465.75,"a":150,"b":110,"c":110,"d":90,"e":100},
{"t":466,"a":250,"b":310,"c":310,"d":290,"e":300},
{"t":466.25,"a":0,"b":60,"c":60,"d":40,"e":50},
{"t":466.5,"a":-230,"b":-190,"c":-190,"d":-210,"e":-200},
{"t":466.75,"a":50,"b":10,"c":10,"d":-10,"e":0},
{"t":467,"a":280,"b":260,"c":260,"d":240,"e":250},
{"t":467.25,"a":50,"b":110,"c":110,"d":90,"e":100},
{"t":467.5,"a":-280,"b":-240,"c":-240,"d":-260,"e":-250},
{"t":467.75,"a":50,"b":10,"c":10,"d":-10,"e":0},
{"t":468,"a":270,"b":310,"c":310,"d":290,"e":300},
{"t":468.25,"a":0,"b":60,"c":60,"d":40,"e":50},
{"t":468.5,"a":-250,"b":-270,"c":-270,"d":-290,"e":-280},
{"t":468.75,"a":0,"b":-40,"c":-40,"d":-60,"e":-50},
{"t":469,"a":280,"b":260,"c":260,"d":240,"e":250},
{"t":469.25,"a":-50,"b":10,"c":10,"d":-10,"e":0},
{"t":469.5,"a":-150,"b":-190,"c":-190,"d":-210,"e":-200},
{"t":469.75,"a":150,"b":110,"c":110,"d":90,"e":100},
{"t":470,"a":250,"b":330,"c":330,"d":310,"e":320},
{"t":470.25,"a":-80,"b":10,"c":10,"d":-10,"e":0},
{"t":470.5,"a":-350,"b":-320,"c":-320,"d":-340,"e":-330},
{"t":470.75,"a":50,"b":-90,"c":-90,"d":-110,"e":-100},
{"t":471,"a":420,"b":210,"c":210,"d":190,"e":200},
{"t":471.25,"a":150,"b":110,"c":110,"d":90,"e":100},
{"t":471.5,"a":-150,"b":-190,"c":-190,"d":-210,"e":-200},
{"t":471.75,"a":-400,"b":-240,"c":-240,"d":-260,"e":-250},
{"t":472,"a":-50,"b":160,"c":160,"d":140,"e":150},
{"t":472.25,"a":300,"b":260,"c":260,"d":240,"e":250},
{"t":472.5,"a":150,"b":-40,"c":-40,"d":-60,"e":-50},
{"t":472.75,"a":-150,"b":-240,"c":-240,"d":-260,"e":-250},
{"t":473,"a":-280,"b":10,"c":10,"d":-10,"e":0},
{"t":473.25,"a":50,"b":290,"c":290,"d":270,"e":280},
{"t":473.5,"a":250,"b":110,"c":110,"d":90,"e":100},
{"t":473.75,"a":100,"b":-190,"c":-190,"d":-210,"e":-200},
{"t":474,"a":-200,"b":-140,"c":-140,"d":-160,"e":-150},
{"t":474.25,"a":-100,"b":210,"c":210,"d":190,"e":200},
{"t":474.5,"a":200,"b":260,"c":260,"d":240,"e":250},
{"t":474.75,"a":220,"b":-90,"c":-90,"d":-110,"e":-100},
{"t":475,"a":-50,"b":-240,"c":-240,"d":-260,"e":-250},
{"t":475.25,"a":-250,"b":60,"c":60,"d":40,"e":50},
{"t":475.5,"a":0,"b":290,"c":290,"d":270,"e":280},
{"t":475.75,"a":250,"b":110,"c":110,"d":90,"e":100},
{"t":476,"a":150,"b":-190,"c":-190,"d":-210,"e":-200},
{"t":476.25,"a":-200,"b":-90,"c":-90,"d":-110,"e":-100},
{"t":476.5,"a":-180,"b":210,"c":210,"d":190,"e":200},
{"t":476.75,"a":150,"b":160,"c":160,"d":140,"e":150},
{"t":477,"a":250,"b":-140,"c":-140,"d":-160,"e":-150},
{"t":477.25,"a":0,"b":-190,"c":-190,"d":-210,"e":-200},
{"t":477.5,"a":-250,"b":160,"c":160,"d":140,"e":150},
{"t":477.75,"a":-50,"b":260,"c":260,"d":240,"e":250},
{"t":478,"a":250,"b":-40,"c":-40,"d":-60,"e":-50},
{"t":478.25,"a":180,"b":-240,"c":-240,"d":-260,"e":-250},
{"t":478.5,"a":-200,"b":10,"c":10,"d":-10,"e":0},
{"t":478.75,"a":-150,"b":210,"c":210,"d":190,"e":200},
{"t":479,"a":200,"b":110,"c":110,"d":90,"e":100},
{"t":479.25,"a":220,"b":-190,"c":-190,"d":-210,"e":-200},
{"t":479.5,"a":-150,"b":-90,"c":-90,"d":-110,"e":-100},
{"t":479.75,"a":-200,"b":230,"c":230,"d":210,"e":220},
{"t":480,"a":100,"b":160,"c":160,"d":140,"e":150},
{"t":480.25,"a":250,"b":-190,"c":-190,"d":150,"e":-200},
{"t":480.5,"a":-50,"b":-140,"c":-140,"d":-200,"e":-150},
{"t":480.75,"a":-250,"b":260,"c":260,"d":-150,"e":250},
{"t":481,"a":0,"b":60,"c":60,"d":250,"e":50},
{"t":481.25,"a":220,"b":-240,"c":-240,"d":50,"e":-250},
{"t":481.5,"a":150,"b":10,"c":10,"d":-250,"e":0},
{"t":481.75,"a":-200,"b":210,"c":210,"d":0,"e":200},
{"t":482,"a":-220,"b":-40,"c":-40,"d":200,"e":-50},
{"t":482.25,"a":150,"b":-190,"c":-190,"d":-50,"e":-200},
{"t":482.5,"a":220,"b":160,"c":160,"d":-200,"e":150},
{"t":482.75,"a":-100,"b":260,"c":260,"d":150,"e":250},
{"t":483,"a":-250,"b":-90,"c":-90,"d":250,"e":-100},
{"t":483.25,"a":50,"b":-240,"c":-240,"d":-100,"e":-250},
{"t":483.5,"a":280,"b":110,"c":110,"d":-250,"e":100},
{"t":483.75,"a":50,"b":210,"c":210,"d":100,"e":200},
{"t":484,"a":-200,"b":-140,"c":-140,"d":200,"e":-150},
{"t":484.25,"a":0,"b":-190,"c":-190,"d":-150,"e":-200},
{"t":484.5,"a":350,"b":210,"c":210,"d":-200,"e":200},
{"t":484.75,"a":0,"b":110,"c":110,"d":200,"e":100},
{"t":485,"a":-230,"b":-240,"c":-240,"d":100,"e":-250},
{"t":485.25,"a":-50,"b":10,"c":10,"d":-250,"e":0},
{"t":485.5,"a":200,"b":260,"c":260,"d":0,"e":250},
{"t":485.75,"a":180,"b":-40,"c":-40,"d":250,"e":-50},
{"t":486,"a":-150,"b":-190,"c":-190,"d":-50,"e":-200},
{"t":486.25,"a":-250,"b":160,"c":160,"d":-200,"e":150},
{"t":486.5,"a":100,"b":210,"c":210,"d":150,"e":200},
{"t":486.75,"a":250,"b":-90,"c":-90,"d":200,"e":-100},
{"t":487,"a":0,"b":-240,"c":-240,"d":-100,"e":-250},
{"t":487.25,"a":-250,"b":110,"c":110,"d":-250,"e":100},
{"t":487.5,"a":-50,"b":240,"c":240,"d":100,"e":230},
{"t":487.75,"a":220,"b":-40,"c":-40,"d":230,"e":-50},
{"t":488,"a":150,"b":-190,"c":-190,"d":-50,"e":-200},
{"t":488.25,"a":-200,"b":210,"c":210,"d":-200,"e":200},
{"t":488.5,"a":-200,"b":160,"c":160,"d":200,"e":150},
{"t":488.75,"a":150,"b":-140,"c":-140,"d":150,"e":-150},
{"t":489,"a":230,"b":-190,"c":-190,"d":-150,"e":-200},
{"t":489.25,"a":-50,"b":190,"c":190,"d":-200,"e":180},
{"t":489.5,"a":-250,"b":260,"c":260,"d":180,"e":250},
{"t":489.75,"a":50,"b":-90,"c":-90,"d":250,"e":-100},
{"t":490,"a":250,"b":-240,"c":-240,"d":-100,"e":-250},
{"t":490.25,"a":100,"b":110,"c":110,"d":-250,"e":100},
{"t":490.5,"a":-220,"b":210,"c":210,"d":100,"e":200},
{"t":490.75,"a":-150,"b":-40,"c":-40,"d":200,"e":-50},
{"t":491,"a":200,"b":-190,"c":-190,"d":-50,"e":-200},
{"t":491.25,"a":200,"b":160,"c":160,"d":-200,"e":150},
{"t":491.5,"a":-100,"b":260,"c":260,"d":150,"e":250},
{"t":491.75,"a":-250,"b":-140,"c":-140,"d":250,"e":-150},
{"t":492,"a":100,"b":-190,"c":-190,"d":-150,"e":-200},
{"t":492.25,"a":250,"b":210,"c":210,"d":-200,"e":200},
{"t":492.5,"a":0,"b":110,"c":110,"d":200,"e":100},
{"t":492.75,"a":-200,"b":-240,"c":-240,"d":100,"e":-250},
{"t":493,"a":-150,"b":10,"c":10,"d":-250,"e":0},
{"t":493.25,"a":200,"b":310,"c":310,"d":0,"e":320},
{"t":493.5,"a":220,"b":60,"c":60,"d":330,"e":50},
{"t":493.75,"a":-100,"b":-190,"c":-190,"d":50,"e":-200},
{"t":494,"a":-250,"b":-90,"c":-90,"d":-200,"e":-100},
{"t":494.25,"a":50,"b":210,"c":210,"d":-100,"e":200},
{"t":494.5,"a":250,"b":160,"c":160,"d":200,"e":150},
{"t":494.75,"a":100,"b":-140,"c":-140,"d":150,"e":-150},
{"t":495,"a":-200,"b":-210,"c":-210,"d":-150,"e":-220},
{"t":495.25,"a":-150,"b":110,"c":110,"d":-220,"e":100},
{"t":495.5,"a":150,"b":210,"c":210,"d":100,"e":200},
{"t":495.75,"a":220,"b":-40,"c":-40,"d":200,"e":-50},
{"t":496,"a":-50,"b":-190,"c":-190,"d":-50,"e":-200},
{"t":496.25,"a":-250,"b":60,"c":60,"d":-200,"e":50},
{"t":496.5,"a":-50,"b":190,"c":190,"d":50,"e":180},
{"t":496.75,"a":200,"b":10,"c":10,"d":180,"e":0},
{"t":497,"a":150,"b":-190,"c":-190,"d":0,"e":-200},
{"t":497.25,"a":-150,"b":-90,"c":-90,"d":-200,"e":-100},
{"t":497.5,"a":-220,"b":160,"c":160,"d":-100,"e":150},
{"t":497.75,"a":100,"b":210,"c":210,"d":150,"e":200},
{"t":498,"a":250,"b":-40,"c":-40,"d":200,"e":-50},
{"t":498.25,"a":50,"b":-240,"c":-240,"d":-50,"e":-250},
{"t":498.5,"a":-250,"b":60,"c":60,"d":-250,"e":50},
{"t":498.75,"a":-100,"b":260,"c":260,"d":50,"e":250},
{"t":499,"a":250,"b":110,"c":110,"d":250,"e":100},
{"t":499.25,"a":150,"b":-290,"c":-290,"d":100,"e":-300},
{"t":499.5,"a":-350,"b":-90,"c":-90,"d":-300,"e":-100},
{"t":499.75,"a":0,"b":260,"c":260,"d":-100,"e":250},
{"t":500,"a":250,"b":210,"c":210,"d":250,"e":200}
]
},
"vconcat": [
{
  "width": 522, "height": 76,
  "data": {"name": "p1"},
  "title": {"text": "Tower fore-aft bending moment", "offset": 9},
  "transform": [{"fold": ["a", "b", "c", "d", "e"], "as": ["k", "v"]}],
  "mark": {"type": "line", "strokeWidth": 1.5, "clip": true},
  "encoding": {
    "x": {"field": "t", "type": "quantitative", "scale": {"domain": [450, 500], "nice": false, "zero": false}, "axis": {"values": [450, 460, 470, 480, 490, 500], "title": null}},
    "y": {"field": "v", "type": "quantitative", "scale": {"domain": [767, 3300], "nice": false, "zero": false}, "axis": {"values": [1000, 2000, 3000], "title": "(kN*m)"}},
    "color": {"field": "k", "type": "nominal", "scale": {"domain": ["a", "b", "c", "d", "e"], "range": ["#ff0000", "#ffa860", "#0000ff", "#000000", "#00ff00"]}, "legend": {"title": "n", "labelExpr": "datum.value == 'a' ? 'baseline' : datum.value == 'b' ? 'case1' : datum.value == 'c' ? 'case2' : datum.value == 'd' ? 'case3' : 'case4'"}}
  }
},
{
  "width": 522, "height": 80,
  "data": {"name": "p2"},
  "title": {"text": "Tower side-to-side bending moment", "offset": 1},
  "transform": [{"fold": ["a", "b", "c", "d", "e"], "as": ["k", "v"]}],
  "mark": {"type": "line", "strokeWidth": 1.5, "clip": true},
  "encoding": {
    "x": {"field": "t", "type": "quantitative", "scale": {"domain": [450, 500], "nice": false, "zero": false}, "axis": {"values": [450, 460, 470, 480, 490, 500], "title": null}},
    "y": {"field": "v", "type": "quantitative", "scale": {"domain": [-690, 1595], "nice": false, "zero": false}, "axis": {"values": [-500, 0, 500, 1000, 1500], "title": "(kN*m)"}},
    "color": {"field": "k", "type": "nominal", "scale": {"domain": ["a", "b", "c", "d", "e"], "range": ["#ff0000", "#ffa860", "#0000ff", "#000000", "#00ff00"]}, "legend": {"title": "n", "labelExpr": "datum.value == 'a' ? 'baseline' : datum.value == 'b' ? 'case1' : datum.value == 'c' ? 'case2' : datum.value == 'd' ? 'case3' : 'case4'"}}
  }
},
{
  "width": 522, "height": 87,
  "data": {"name": "p3"},
  "title": {"text": "Blade Flapwise tip bending moment", "offset": 3},
  "transform": [{"fold": ["a", "b", "c", "d", "e"], "as": ["k", "v"]}],
  "mark": {"type": "line", "strokeWidth": 1.5, "clip": true},
  "encoding": {
    "x": {"field": "t", "type": "quantitative", "scale": {"domain": [450, 500], "nice": false, "zero": false}, "axis": {"values": [450, 460, 470, 480, 490, 500], "title": null}},
    "y": {"field": "v", "type": "quantitative", "scale": {"domain": [-52, 634], "nice": false, "zero": false}, "axis": {"values": [0, 200, 400, 600], "title": "(kN*m)"}},
    "color": {"field": "k", "type": "nominal", "scale": {"domain": ["a", "b", "c", "d", "e"], "range": ["#ff0000", "#ffa860", "#0000ff", "#000000", "#00ff00"]}, "legend": {"title": "n", "labelExpr": "datum.value == 'a' ? 'baseline' : datum.value == 'b' ? 'case1' : datum.value == 'c' ? 'case2' : datum.value == 'd' ? 'case3' : 'case4'"}}
  }
},
{
  "width": 522, "height": 91,
  "data": {"name": "p4"},
  "title": {"text": "Blade edgewise tip bending moment (kN*m)", "offset": 8},
  "transform": [{"fold": ["a", "b", "c", "d", "e"], "as": ["k", "v"]}],
  "mark": {"type": "line", "strokeWidth": 1.5, "clip": true},
  "encoding": {
    "x": {"field": "t", "type": "quantitative", "scale": {"domain": [450, 500], "nice": false, "zero": false}, "axis": {"values": [450, 460, 470, 480, 490, 500], "title": "Time (sec)", "titlePadding": -6}},
    "y": {"field": "v", "type": "quantitative", "scale": {"domain": [-424, 437], "nice": false, "zero": false}, "axis": {"values": [-400, -200, 0, 200, 400], "title": "(kN*m)"}},
    "color": {"field": "k", "type": "nominal", "scale": {"domain": ["a", "b", "c", "d", "e"], "range": ["#ff0000", "#ffa860", "#0000ff", "#000000", "#00ff00"]}, "legend": {"title": "n", "labelExpr": "datum.value == 'a' ? 'baseline' : datum.value == 'b' ? 'case1' : datum.value == 'c' ? 'case2' : datum.value == 'd' ? 'case3' : 'case4'"}}
  }
}
]
}
